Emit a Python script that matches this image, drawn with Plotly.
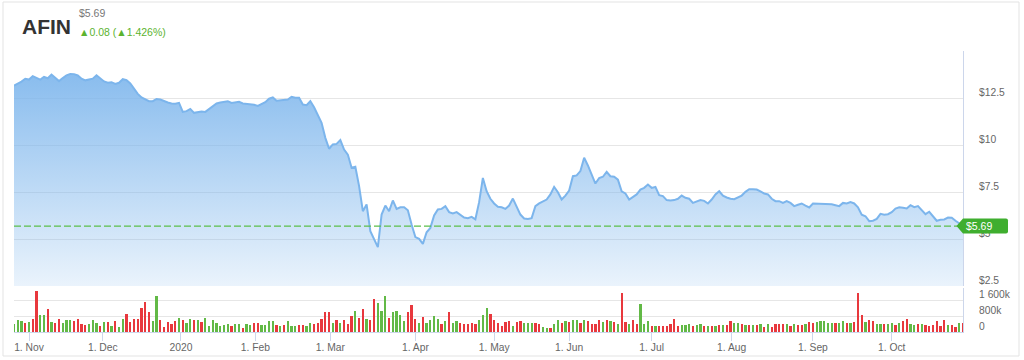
import plotly.graph_objects as go

TICKER = "AFIN"
LAST_PRICE = 5.69
CHANGE = 0.08
CHANGE_PCT = 1.426

# daily closes, 28 Oct 2019 .. 28 Oct 2020 (trading days)
PRICE = [
    13.16, 13.25, 13.37, 13.52, 13.48, 13.66, 13.57, 13.48, 13.62, 13.55,
    13.75, 13.57, 13.40, 13.56, 13.70, 13.78, 13.77, 13.70, 13.53, 13.44,
    13.48, 13.53, 13.71, 13.55, 13.38, 13.31, 13.34, 13.25, 13.31, 13.50,
    13.45, 13.27, 12.99, 12.72, 12.53, 12.44, 12.33, 12.33, 12.45, 12.42,
    12.33, 12.26, 12.21, 12.19, 12.24, 11.76, 11.80, 11.92, 11.71, 11.76,
    11.78, 11.76, 11.92, 12.03, 12.21, 12.26, 12.28, 12.33, 12.24, 12.28,
    12.30, 12.21, 12.19, 12.19, 12.14, 12.08, 12.17, 12.28, 12.46, 12.53,
    12.35, 12.38, 12.37, 12.42, 12.56, 12.51, 12.51, 12.15, 12.12, 12.33,
    12.01, 11.57, 11.18, 10.38, 9.80, 10.03, 10.06, 10.26, 9.76, 9.49,
    8.79, 8.84, 7.81, 6.48, 6.84, 5.42, 4.97, 4.57, 6.30, 6.78,
    6.48, 7.05, 6.60, 6.69, 6.69, 6.53, 5.77, 5.10, 5.01, 4.74,
    5.36, 5.59, 6.25, 6.57, 6.60, 6.75, 6.43, 6.36, 6.43, 6.29,
    6.14, 6.11, 6.18, 6.05, 6.96, 8.25, 7.54, 7.14, 6.89, 6.71,
    6.69, 6.60, 6.78, 7.15, 6.75, 6.30, 6.09, 6.07, 6.11, 6.75,
    6.89, 6.98, 7.10, 7.37, 7.77, 7.49, 7.10, 7.31, 7.58, 8.34,
    8.38, 8.61, 9.32, 8.91, 8.43, 7.95, 8.24, 8.31, 8.57, 8.34,
    8.31, 8.16, 7.54, 7.42, 7.10, 7.24, 7.37, 7.63, 7.72, 7.90,
    7.72, 7.77, 7.33, 7.28, 7.07, 7.05, 7.07, 7.14, 7.31, 7.19,
    7.14, 6.92, 6.99, 7.07, 7.03, 6.89, 7.10, 7.37, 7.54, 7.30,
    7.21, 7.14, 7.12, 7.21, 7.31, 7.51, 7.65, 7.65, 7.63, 7.53,
    7.42, 7.37, 7.14, 7.01, 7.01, 6.92, 7.01, 6.92, 6.75, 6.82,
    6.89, 6.78, 6.68, 6.89, 6.89, 6.87, 6.87, 6.87, 6.85, 6.80,
    6.75, 6.92, 6.89, 6.96, 6.89, 6.69, 6.29, 6.21, 5.95, 5.97,
    6.07, 6.34, 6.29, 6.32, 6.43, 6.62, 6.69, 6.66, 6.62, 6.80,
    6.69, 6.75, 6.53, 6.32, 6.45, 6.21, 5.97, 6.02, 6.04, 6.14,
    6.13, 5.97, 5.81, 5.69,
]

# daily volume, thousands of shares
VOLUME_K = [
    430, 602, 568, 482, 516, 688, 2098, 894, 860, 1187,
    516, 482, 654, 482, 636, 602, 568, 654, 430, 344,
    430, 602, 482, 310, 516, 516, 310, 550, 258, 654,
    946, 516, 654, 654, 1238, 1514, 998, 550, 1858, 636,
    258, 516, 430, 568, 740, 636, 482, 688, 602, 636,
    516, 740, 310, 636, 464, 310, 344, 430, 310, 430,
    430, 224, 430, 378, 482, 482, 378, 378, 550, 550,
    344, 292, 344, 550, 310, 310, 344, 378, 310, 464,
    430, 482, 654, 998, 998, 482, 636, 464, 602, 430,
    808, 1084, 740, 1170, 688, 636, 1668, 1462, 1084, 1858,
    740, 1032, 1084, 894, 550, 1032, 1376, 688, 464, 774,
    464, 636, 808, 688, 430, 550, 1032, 482, 550, 464,
    396, 396, 482, 396, 636, 894, 1238, 912, 636, 482,
    310, 516, 550, 310, 516, 550, 482, 482, 482, 482,
    396, 258, 224, 224, 396, 636, 482, 550, 516, 636,
    636, 482, 602, 550, 396, 396, 636, 516, 636, 550,
    516, 430, 2012, 516, 430, 636, 430, 1428, 430, 550,
    310, 310, 310, 310, 310, 430, 688, 310, 344, 378, 430,
    310, 378, 430, 310, 292, 310, 310, 378, 378, 378,
    568, 464, 482, 396, 378, 344, 378, 344, 396, 258,
    396, 258, 396, 430, 396, 430, 310, 396, 378, 344,
    430, 516, 482, 516, 550, 550, 464, 464, 464, 464,
    550, 482, 482, 516, 1978, 860, 516, 602, 568, 430,
    430, 396, 430, 464, 378, 482, 550, 688, 430, 378,
    396, 430, 344, 310, 378, 550, 310, 602, 344, 378,
    258, 464, 482,
]

# G = up day (green bar), R = down day (red bar)
DIRECTION = list(
    "GGGRGRRGGR" "GRRGGGRRRR" "GGGRGRGRGG" "RRRRRRRGGR" "RRRRGRGGRG"
    "RGGGGGGGRG" "GRGGRRGGGG" "RGRGGGRRGG" "RRRRRGRGRR"
    "RGRRGRRGGG" "RGGGGRRRGR" "GGGGRGRGGR" "RRRRGGGRRR" "RRRGRRGGGR"
    "RGGRGGRGRG" "GRGRRRRGRG" "RGRRGRRGGG" "RGRRRRRRGGG"
    "RGGRGRGRGR" "RGGRGRGRGR" "GRRRRGRGRR" "GRRGGGGGRG"
    "GRGRRRGRRG" "GRGGRGRRGG" "RGRRRRRRGR" "RGR"
)

MONTH_TICK_POS = [4, 23.67, 44.5, 64.33, 84.33, 107, 128, 148, 170, 191.33, 213, 234]
MONTH_TICK_TEXT = ["1. Nov", "1. Dec", "2020", "1. Feb", "1. Mar", "1. Apr",
                   "1. May", "1. Jun", "1. Jul", "1. Aug", "1. Sep", "1. Oct"]
PRICE_TICKS = [2.5, 5, 7.5, 10, 12.5, 15]
PRICE_TICK_TEXT = ["$2.5", "$5", "$7.5", "$10", "$12.5", ""]
VOLUME_TICKS = [0, 800, 1600]
VOLUME_TICK_TEXT = ["0", "800k", "1 600k"]

# ---------------------------------------------------------------- layout helpers
W, H = 1024, 360
ML, MR, MT, MB = 14, 61, 51, 28
PW = W - ML - MR
PH = H - MT - MB


def fx(px):
    return (px - ML) / PW


def fy(py):
    return (H - MB - py) / PH


FONT = "Liberation Sans, Arial, Helvetica, sans-serif"
GREEN = "#62b946"
RED = "#e8383d"
LINE_BLUE = "#7cb5ec"
AXIS_LINE = "#ccd6eb"
GRID = "#e6e6e6"
LABEL = "#666666"

idx = list(range(len(PRICE)))
bar_colors = [GREEN if d == "G" else RED for d in DIRECTION]

fig = go.Figure()

fig.add_trace(go.Scatter(
    x=idx, y=PRICE, mode="lines", xaxis="x", yaxis="y",
    line=dict(color=LINE_BLUE, width=2),
    fill="tozeroy",
    fillgradient=dict(type="vertical", start=2.5, stop=15,
                      colorscale=[[0, "rgba(124,181,236,0.16)"],
                                  [1, "rgba(124,181,236,0.98)"]]),
    hoverinfo="skip", showlegend=False,
))

fig.add_trace(go.Bar(
    x=idx, y=VOLUME_K, xaxis="x", yaxis="y2", width=0.6,
    marker=dict(color=bar_colors, line=dict(width=0)),
    hoverinfo="skip", showlegend=False,
))

price_bottom = fy(286)
vol_top = fy(288)

fig.update_layout(
    width=W, height=H,
    margin=dict(l=ML, r=MR, t=MT, b=MB, autoexpand=False),
    paper_bgcolor="white", plot_bgcolor="white",
    font=dict(family=FONT, size=10.3, color=LABEL),
    bargap=0,
    xaxis=dict(
        domain=[0, 1], range=[0, len(PRICE) - 1], anchor="y2", automargin=False,
        tickmode="array", tickvals=MONTH_TICK_POS, ticktext=MONTH_TICK_TEXT,
        showgrid=False, zeroline=False,
        showline=True, linecolor=AXIS_LINE, linewidth=1,
        ticks="outside", ticklen=8, tickcolor=AXIS_LINE, tickwidth=1,
        ticklabelstandoff=-2,
        tickfont=dict(size=10.3, color=LABEL),
    ),
    yaxis=dict(
        domain=[price_bottom, 1], range=[2.5, 15], side="right", anchor="x",
        automargin=False,
        tickmode="array", tickvals=PRICE_TICKS, ticktext=PRICE_TICK_TEXT,
        showgrid=True, gridcolor=GRID, gridwidth=1, zeroline=False,
        showline=True, linecolor=AXIS_LINE, linewidth=1,
        ticks="", ticklabelstandoff=13, ticklabelshift=-6,
        tickfont=dict(size=10.3, color=LABEL),
    ),
    yaxis2=dict(
        domain=[0, vol_top], range=[0, 2250], side="right", anchor="x",
        automargin=False,
        tickmode="array", tickvals=VOLUME_TICKS, ticktext=VOLUME_TICK_TEXT,
        showgrid=True, gridcolor=GRID, gridwidth=1, zeroline=False,
        showline=True, linecolor=AXIS_LINE, linewidth=1,
        ticks="", ticklabelstandoff=13, ticklabelshift=-6,
        tickfont=dict(size=10.3, color=LABEL),
    ),
)

shapes = [
    # outer card frame
    dict(type="rect", xref="paper", yref="paper",
         x0=fx(3), x1=fx(1019), y0=fy(356), y1=fy(2),
         line=dict(color="#e3e3e3", width=1), fillcolor="rgba(0,0,0,0)",
         layer="below"),
    # last-price dashed line
    dict(type="line", xref="paper", yref="y", x0=0, x1=1,
         y0=LAST_PRICE, y1=LAST_PRICE,
         line=dict(color="#5cbf4a", width=1.2, dash="7px,3px"), layer="above"),
    # last-price flag
    dict(type="path", xref="paper", yref="y", xsizemode="pixel", ysizemode="pixel",
         xanchor=1, yanchor=LAST_PRICE,
         path="M -6.5,0 L 0,7.5 L 43,7.5 Q 45,7.5 45,5.5 L 45,-5.5 Q 45,-7.5 43,-7.5 L 0,-7.5 Z",
         fillcolor="#3fae2f", line=dict(width=0), layer="above"),
]
fig.update_layout(shapes=shapes)

annotations = [
    dict(text="<b>%s</b>" % TICKER, xref="paper", yref="paper",
         x=fx(20), y=fy(26.7), xanchor="left", yanchor="middle", showarrow=False,
         font=dict(family=FONT, size=21, color="#333333")),
    dict(text="$%.2f" % LAST_PRICE, xref="paper", yref="paper",
         x=fx(77), y=fy(13.4), xanchor="left", yanchor="middle", showarrow=False,
         font=dict(family=FONT, size=10.5, color="#777777")),
    dict(text="▲%.2f (▲%.3f%%)" % (CHANGE, CHANGE_PCT), xref="paper", yref="paper",
         x=fx(77), y=fy(32.4), xanchor="left", yanchor="middle", showarrow=False,
         font=dict(family=FONT, size=10.5, color="#5cb32f")),
    dict(text="$%.2f" % LAST_PRICE, xref="paper", yref="y",
         x=fx(964), y=LAST_PRICE, xanchor="left", yanchor="middle", showarrow=False,
         font=dict(family=FONT, size=10.5, color="white")),
]
fig.update_layout(annotations=annotations)

fig.write_html("out.html")
